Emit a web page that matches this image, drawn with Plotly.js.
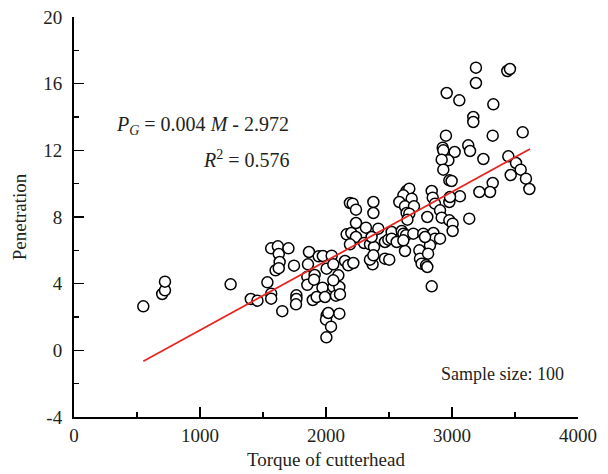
<!DOCTYPE html>
<html>
<head>
<meta charset="utf-8">
<script src="https://cdn.plot.ly/plotly-3.0.1.min.js"></script>
<style>html,body{margin:0;padding:0;background:#fff;}#chart{width:608px;height:474px;}</style>
</head>
<body>
<div id="chart"></div>
<script>
// Torque of cutterhead (M) and penetration (P) samples
const torque = [
  550,700,722,722,1243,1403,1456,1535,1565,1565,1653,1565,1618,1625,1632,1600,1625,1702,1746,1765,
  1765,1762,1865,1857,1852,1910,1852,1905,1895,1926,1942,1975,2045,1972,1992,2005,2000,2003,2040,2058,
  2079,2106,2111,2018,2106,2005,2058,2098,2058,2151,2177,2217,2164,2201,2238,2190,2302,2349,2381,2355,
  2370,2349,2376,2190,2212,2238,2376,2376,2238,2317,2415,2362,2468,2495,2521,2521,2561,2601,2614,2635,
  2693,2627,2741,2468,2502,2746,2759,2794,2804,2839,2772,2794,2820,2852,2865,2905,2640,2661,2614,2680,
  2582,2627,2698,2640,2661,2646,2839,2847,2865,2804,2905,2918,2979,3005,3005,2979,2979,3063,3137,
  3190,3439,3460,3190,2958,3058,3328,3169,3169,3323,3561,2952,2926,2931,3021,3129,3143,2971,2918,2931,
  3249,3447,3508,3545,3466,3587,3614,3323,3302,3217,2997,2984,2825,2786,2810,2614
];
const penetration = [
  2.64,3.38,3.6,4.12,3.96,3.08,2.98,4.08,3.4,3.1,2.35,6.12,6.24,5.78,5.3,4.8,4.93,6.12,5.08,3.3,
  3.08,2.76,5.9,5.16,4.42,4.52,3.93,4.24,3.02,3.2,5.64,5.66,5.68,3.76,3.2,2.1,1.84,0.78,1.42,3.8,
  3.28,3.8,3.36,2.24,2.2,4.9,5.16,4.5,4.2,5.36,5.1,5.24,6.96,7.04,6.8,6.36,6.44,6.36,6.2,5.4,
  5.16,5.44,5.7,8.84,8.8,8.44,8.9,8.24,7.64,7.36,7.3,6.8,6.5,6.64,7.1,6.7,6.5,7.16,7.0,6.9,
  7.0,5.96,6.0,5.5,5.44,5.5,5.2,5.1,5.0,3.84,7.0,6.8,6.64,7.04,6.7,6.7,9.56,9.7,9.3,9.1,
  8.9,8.64,8.64,8.24,8.2,7.84,9.56,9.16,8.8,8.0,8.4,7.96,7.8,7.6,7.16,10.2,8.9,9.24,7.9,
  16.96,16.76,16.88,16.04,15.44,15.0,14.76,14.0,13.7,12.88,13.08,12.88,12.16,12.0,11.9,12.3,11.96,11.4,11.44,10.84,
  11.48,11.64,11.24,10.84,10.52,10.3,9.68,10.04,9.5,9.5,10.16,9.2,6.3,6.8,5.8,6.6
];
// Fitted line end points
const fitX = [550, 3619];
const fitY = [-0.66, 12.08];

const xTicks = [0, 1000, 2000, 3000, 4000];
const yTicks = [-4, 0, 4, 8, 12, 16, 20];

const serif = "Liberation Serif, Times New Roman, serif";
const ink = "#231f20";

const traces = [
  {
    x: torque, y: penetration, type: "scatter", mode: "markers",
    marker: {size: 11, color: "#ffffff", line: {color: "#000000", width: 1.5}},
    hoverinfo: "skip", showlegend: false
  },
  {
    x: fitX, y: fitY, type: "scatter", mode: "lines",
    line: {color: "#e8261f", width: 1.8},
    hoverinfo: "skip", showlegend: false
  }
];

const axisCommon = {
  showgrid: false, zeroline: false, showline: true, linecolor: "#000", linewidth: 2,
  ticks: "inside", ticklen: 10, tickwidth: 1.6, tickcolor: "#000",
  tickfont: {family: serif, size: 19, color: ink},
  mirror: false
};

const layout = {
  width: 608, height: 474,
  margin: {l: 74, r: 30, t: 17, b: 57},
  paper_bgcolor: "#fff", plot_bgcolor: "#fff",
  xaxis: Object.assign({}, axisCommon, {
    range: [0, 4000], tickvals: xTicks, ticktext: xTicks.map(String),
    minor: {dtick: 500, ticks: "inside", ticklen: 5, tickwidth: 1.6, tickcolor: "#000"},
    title: {text: "Torque of cutterhead", font: {family: serif, size: 19, color: ink}, standoff: 8}
  }),
  yaxis: Object.assign({}, axisCommon, {
    range: [-4, 20], tickvals: yTicks, ticktext: yTicks.map(String),
    ticklabelstandoff: 6,
    minor: {dtick: 2, ticks: "inside", ticklen: 5, tickwidth: 1.6, tickcolor: "#000"},
    title: {text: "Penetration", font: {family: serif, size: 19, color: ink}, standoff: 12}
  }),
  annotations: [
    {xref: "paper", yref: "paper", x: 0.0794, y: 0.7275, xanchor: "left", yanchor: "middle",
     text: "<i>P</i><sub><i>G</i></sub> = 0.004 <i>M</i> - 2.972", showarrow: false,
     font: {family: serif, size: 20, color: ink}},
    {xref: "paper", yref: "paper", x: 0.4325, y: 0.645, xanchor: "right", yanchor: "middle",
     text: "<i>R</i><sup>2</sup> = 0.576", showarrow: false,
     font: {family: serif, size: 20, color: ink}},
    {xref: "paper", yref: "paper", x: 0.976, y: 0.1075, xanchor: "right", yanchor: "middle",
     text: "Sample size: 100", showarrow: false,
     font: {family: serif, size: 18, color: ink}}
  ]
};

Plotly.newPlot("chart", traces, layout, {staticPlot: true, displayModeBar: false});
</script>
</body>
</html>
